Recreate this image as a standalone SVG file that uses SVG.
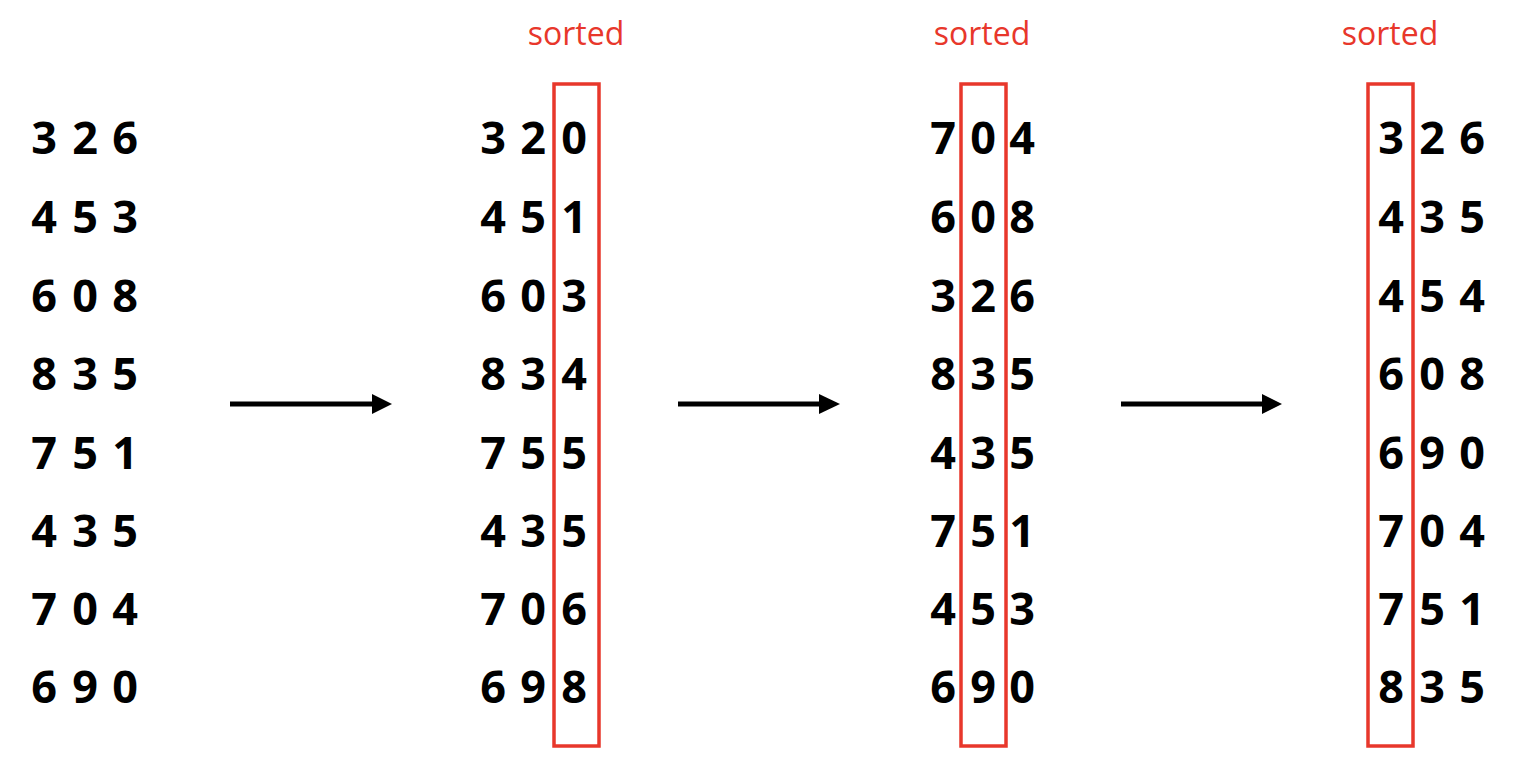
<svg xmlns="http://www.w3.org/2000/svg" width="1540" height="772" viewBox="0 0 1540 772">
<defs>
<style>
.d{font-family:"Open Sans","Noto Sans","DejaVu Sans",sans-serif;font-weight:bold;font-size:45px;fill:#000;text-anchor:middle}
.s{font-family:"Open Sans","Noto Sans","DejaVu Sans",sans-serif;font-size:32px;fill:#E8372B;text-anchor:middle}
.box{fill:none;stroke:#E8372B;stroke-width:3.5}
.arr{stroke:#000;stroke-width:5;fill:none}
</style>
</defs>
<rect width="1540" height="772" fill="#fff"/>
<g id="col1">
<text class="d" y="154"><tspan x="44">3</tspan><tspan x="85">2</tspan><tspan x="125">6</tspan></text>
<text class="d" y="233"><tspan x="44">4</tspan><tspan x="85">5</tspan><tspan x="125">3</tspan></text>
<text class="d" y="312"><tspan x="44">6</tspan><tspan x="85">0</tspan><tspan x="125">8</tspan></text>
<text class="d" y="390"><tspan x="44">8</tspan><tspan x="85">3</tspan><tspan x="125">5</tspan></text>
<text class="d" y="469"><tspan x="44">7</tspan><tspan x="85">5</tspan><tspan x="125">1</tspan></text>
<text class="d" y="547"><tspan x="44">4</tspan><tspan x="85">3</tspan><tspan x="125">5</tspan></text>
<text class="d" y="625"><tspan x="44">7</tspan><tspan x="85">0</tspan><tspan x="125">4</tspan></text>
<text class="d" y="703"><tspan x="44">6</tspan><tspan x="85">9</tspan><tspan x="125">0</tspan></text>
</g>
<g id="col2">
<text class="s" x="576" y="45">sorted</text>
<rect class="box" x="554" y="84" width="45" height="662"/>
<text class="d" y="154"><tspan x="493">3</tspan><tspan x="533">2</tspan><tspan x="574">0</tspan></text>
<text class="d" y="233"><tspan x="493">4</tspan><tspan x="533">5</tspan><tspan x="574">1</tspan></text>
<text class="d" y="312"><tspan x="493">6</tspan><tspan x="533">0</tspan><tspan x="574">3</tspan></text>
<text class="d" y="390"><tspan x="493">8</tspan><tspan x="533">3</tspan><tspan x="574">4</tspan></text>
<text class="d" y="469"><tspan x="493">7</tspan><tspan x="533">5</tspan><tspan x="574">5</tspan></text>
<text class="d" y="547"><tspan x="493">4</tspan><tspan x="533">3</tspan><tspan x="574">5</tspan></text>
<text class="d" y="625"><tspan x="493">7</tspan><tspan x="533">0</tspan><tspan x="574">6</tspan></text>
<text class="d" y="703"><tspan x="493">6</tspan><tspan x="533">9</tspan><tspan x="574">8</tspan></text>
</g>
<g id="col3">
<text class="s" x="982" y="45">sorted</text>
<rect class="box" x="961" y="84" width="45" height="662"/>
<text class="d" y="154"><tspan x="943">7</tspan><tspan x="983">0</tspan><tspan x="1022">4</tspan></text>
<text class="d" y="233"><tspan x="943">6</tspan><tspan x="983">0</tspan><tspan x="1022">8</tspan></text>
<text class="d" y="312"><tspan x="943">3</tspan><tspan x="983">2</tspan><tspan x="1022">6</tspan></text>
<text class="d" y="390"><tspan x="943">8</tspan><tspan x="983">3</tspan><tspan x="1022">5</tspan></text>
<text class="d" y="469"><tspan x="943">4</tspan><tspan x="983">3</tspan><tspan x="1022">5</tspan></text>
<text class="d" y="547"><tspan x="943">7</tspan><tspan x="983">5</tspan><tspan x="1022">1</tspan></text>
<text class="d" y="625"><tspan x="943">4</tspan><tspan x="983">5</tspan><tspan x="1022">3</tspan></text>
<text class="d" y="703"><tspan x="943">6</tspan><tspan x="983">9</tspan><tspan x="1022">0</tspan></text>
</g>
<g id="col4">
<text class="s" x="1390" y="45">sorted</text>
<rect class="box" x="1368" y="84" width="45" height="662"/>
<text class="d" y="154"><tspan x="1391">3</tspan><tspan x="1432">2</tspan><tspan x="1472">6</tspan></text>
<text class="d" y="233"><tspan x="1391">4</tspan><tspan x="1432">3</tspan><tspan x="1472">5</tspan></text>
<text class="d" y="312"><tspan x="1391">4</tspan><tspan x="1432">5</tspan><tspan x="1472">4</tspan></text>
<text class="d" y="390"><tspan x="1391">6</tspan><tspan x="1432">0</tspan><tspan x="1472">8</tspan></text>
<text class="d" y="469"><tspan x="1391">6</tspan><tspan x="1432">9</tspan><tspan x="1472">0</tspan></text>
<text class="d" y="547"><tspan x="1391">7</tspan><tspan x="1432">0</tspan><tspan x="1472">4</tspan></text>
<text class="d" y="625"><tspan x="1391">7</tspan><tspan x="1432">5</tspan><tspan x="1472">1</tspan></text>
<text class="d" y="703"><tspan x="1391">8</tspan><tspan x="1432">3</tspan><tspan x="1472">5</tspan></text>
</g>
<g id="connectors">
<line class="arr" x1="230" y1="404" x2="374" y2="404"/>
<polygon points="372,394 392,404 372,414" fill="#000"/>
<line class="arr" x1="678" y1="404" x2="821" y2="404"/>
<polygon points="819,394 840,404 819,414" fill="#000"/>
<line class="arr" x1="1121" y1="404" x2="1264" y2="404"/>
<polygon points="1262,394 1282,404 1262,414" fill="#000"/>
</g>
</svg>
